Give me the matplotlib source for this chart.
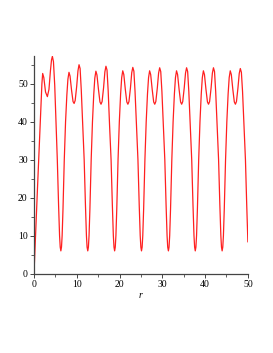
import matplotlib
matplotlib.use('Agg')
import matplotlib.pyplot as plt
from matplotlib.ticker import MultipleLocator

# curve, one row per oscillation
r_vals = [
    0, 0.25, 0.5, 0.8, 1.1, 1.4, 1.65, 1.85, 2.03, 2.3, 2.7, 3.13, 3.5, 3.85, 4.1, 4.3, 4.55, 4.85, 5.15, 5.45, 5.75, 5.98, 6.13,
    6.28, 6.43, 6.58, 6.78, 7.08, 7.38, 7.68, 7.93, 8.18, 8.43, 8.78, 9.13, 9.38, 9.63, 9.98, 10.28, 10.53, 10.78, 11.05, 11.38, 11.73, 12.03, 12.26, 12.41,
    12.57, 12.72, 12.87, 13.07, 13.37, 13.67, 13.97, 14.22, 14.47, 14.72, 15.07, 15.42, 15.67, 15.92, 16.27, 16.57, 16.82, 17.07, 17.34, 17.67, 18.02, 18.32, 18.55, 18.70,
    18.85, 19.00, 19.15, 19.35, 19.65, 19.95, 20.25, 20.50, 20.75, 21.00, 21.35, 21.70, 21.95, 22.20, 22.55, 22.85, 23.10, 23.35, 23.62, 23.95, 24.30, 24.60, 24.83, 24.98,
    25.13, 25.28, 25.43, 25.63, 25.93, 26.23, 26.53, 26.78, 27.03, 27.28, 27.63, 27.98, 28.23, 28.48, 28.83, 29.13, 29.38, 29.63, 29.90, 30.23, 30.58, 30.88, 31.11, 31.26,
    31.42, 31.57, 31.72, 31.92, 32.22, 32.52, 32.82, 33.07, 33.32, 33.57, 33.92, 34.27, 34.52, 34.77, 35.12, 35.42, 35.67, 35.92, 36.19, 36.52, 36.87, 37.17, 37.40, 37.55,
    37.70, 37.85, 38.00, 38.20, 38.50, 38.80, 39.10, 39.35, 39.60, 39.85, 40.20, 40.55, 40.80, 41.05, 41.40, 41.70, 41.95, 42.20, 42.47, 42.80, 43.15, 43.45, 43.68, 43.83,
    43.98, 44.13, 44.28, 44.48, 44.78, 45.08, 45.38, 45.63, 45.88, 46.13, 46.48, 46.83, 47.08, 47.33, 47.68, 47.98, 48.23, 48.48, 48.75, 49.08, 49.43, 49.73, 50.0,
]
y_vals = [
    0, 7, 14, 22, 30, 38, 45, 50, 52.7, 51.6, 47.8, 46.6, 48.5, 53.5, 56.3, 57.2, 55.8, 49.5, 40, 30, 18, 10, 7,
    6.0, 7.0, 10, 17, 30, 40, 47, 51.2, 53.0, 52.0, 48.3, 45.3, 44.8, 45.6, 49.3, 53.4, 55.0, 54.0, 48.4, 39.2, 30, 18, 10, 7,
    6.0, 7.0, 10, 17, 30, 40, 47.2, 51.5, 53.3, 52.3, 48.5, 45.2, 44.6, 45.3, 49, 53.1, 54.6, 53.6, 48.2, 39, 30, 18, 10, 7,
    6.0, 7.0, 10, 17, 30, 40, 47.3, 51.6, 53.4, 52.4, 48.5, 45.2, 44.6, 45.3, 48.9, 52.9, 54.3, 53.3, 48, 39, 30, 18, 10, 7,
    6.0, 7.0, 10, 17, 30, 40, 47.3, 51.6, 53.4, 52.4, 48.5, 45.2, 44.6, 45.3, 48.9, 52.8, 54.2, 53.2, 48, 39, 30, 18, 10, 7,
    6.0, 7.0, 10, 17, 30, 40, 47.3, 51.6, 53.4, 52.4, 48.5, 45.2, 44.6, 45.3, 48.9, 52.8, 54.2, 53.2, 48, 39, 30, 18, 10, 7,
    6.0, 7.0, 10, 17, 30, 40, 47.3, 51.6, 53.4, 52.4, 48.5, 45.2, 44.6, 45.3, 48.9, 52.8, 54.2, 53.2, 48, 39, 30, 18, 10, 7,
    6.0, 7.0, 10, 17, 30, 40, 47.3, 51.6, 53.4, 52.4, 48.5, 45.2, 44.6, 45.3, 48.9, 52.7, 54.0, 53.0, 48, 39, 30, 18, 8.4,
]

x_ticks = [0, 10, 20, 30, 40, 50]
y_ticks = [0, 10, 20, 30, 40, 50]

plt.rcParams['font.family'] = ['Liberation Serif', 'DejaVu Serif']

fig = plt.figure(figsize=(2.73, 3.53), dpi=100)
ax = fig.add_axes([0.1245, 0.2247, 0.7835, 0.6167])

ax.plot(r_vals, y_vals, color='#ff2020', lw=0.9, solid_joinstyle='round')

ax.set_xlim(0, 50)
ax.set_ylim(0, 57.3)
ax.set_xticks(x_ticks)
ax.set_yticks(y_ticks)
ax.xaxis.set_minor_locator(MultipleLocator(5))
ax.yaxis.set_minor_locator(MultipleLocator(5))

for s in ['top', 'right']:
    ax.spines[s].set_visible(False)
for s in ['left', 'bottom']:
    ax.spines[s].set_color('#444444')
    ax.spines[s].set_linewidth(0.9)

ax.tick_params(which='major', direction='out', length=3, width=0.7, color='#444444',
               labelsize=7, pad=1.5)
ax.tick_params(which='minor', direction='out', length=2, width=0.6, color='#444444')

ax.set_xlabel('r', fontstyle='italic', fontsize=7, labelpad=1.5)

fig.savefig('out.png', dpi=100)
